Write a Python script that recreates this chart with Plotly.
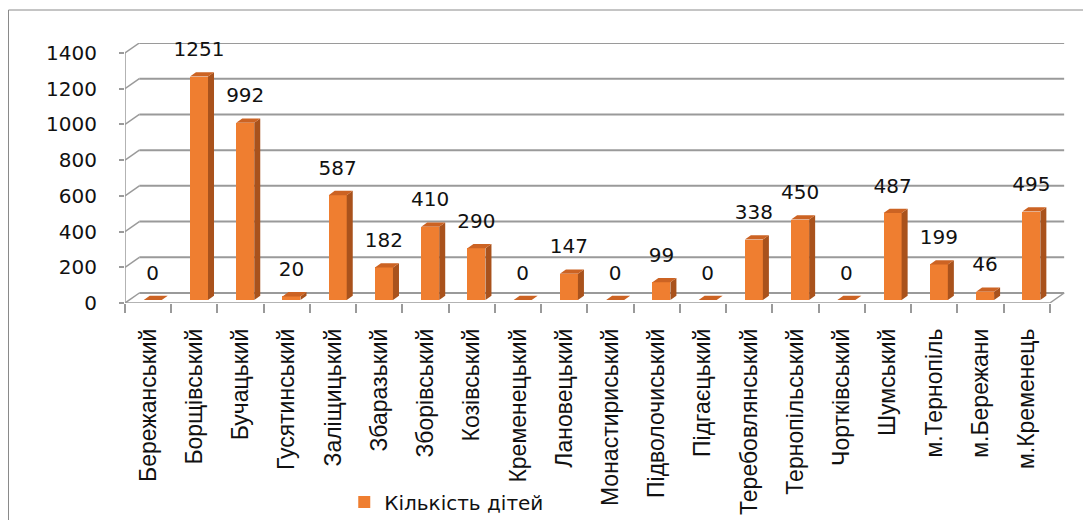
import plotly.graph_objects as go

categories = ["Бережанський", "Борщівський", "Бучацький", "Гусятинський", "Заліщицький",
              "Збаразький", "Зборівський", "Козівський", "Кременецький", "Лановецький",
              "Монастириський", "Підволочиський", "Підгаєцький", "Теребовлянський",
              "Тернопільський", "Чортківський", "Шумський", "м.Тернопіль", "м.Бережани",
              "м.Кременець"]
values = [0, 1251, 992, 20, 587, 182, 410, 290, 0, 147, 0, 99, 0, 338, 450, 0, 487, 199, 46, 495]
y_ticks = [0, 200, 400, 600, 800, 1000, 1200, 1400]
series_name = "Кількість дітей"

# --- pseudo-3D geometry (axis units) ---
DXB, DYB = 0.31, 56        # back-wall offset
FX, BASE = 0.10, 17        # bar front-face offset inside the depth
W = 0.39                   # bar width
SDX, SDY = 0.13, 24        # bar depth (side / top)
LABEL_GAP = 86

FRONT = "#EF7E30"
SIDE = "#A9521C"
TOP = "#CC6323"
GRID = "#9A9A9A"
NUM_FONT = "DejaVu Sans"

n = len(categories)
xs = [i + FX for i in range(n)]

fig = go.Figure()

# front faces
fig.add_trace(go.Bar(x=xs, y=values, base=BASE, width=W, marker=dict(color=FRONT, line=dict(width=0)),
                     name=series_name, showlegend=True, hoverinfo="skip"))

# side faces and top faces
sx, sy, tx, ty = [], [], [], []
for x, v in zip(xs, values):
    xl, xr = x - W / 2, x + W / 2
    top = BASE + v
    if v > 0:
        sx += [xr, xr, xr + SDX, xr + SDX, xr, None]
        sy += [BASE, top, top + SDY, BASE + SDY, BASE, None]
    tx += [xl, xr, xr + SDX, xl + SDX, xl, None]
    ty += [top, top, top + SDY, top + SDY, top, None]
fig.add_trace(go.Scatter(x=sx, y=sy, fill="toself", fillcolor=SIDE, mode="lines",
                         line=dict(width=0, color=SIDE), showlegend=False, hoverinfo="skip"))
fig.add_trace(go.Scatter(x=tx, y=ty, fill="toself", fillcolor=TOP, mode="lines",
                         line=dict(width=0, color=TOP), showlegend=False, hoverinfo="skip"))

# data labels
fig.add_trace(go.Scatter(x=xs, y=[BASE + v + LABEL_GAP for v in values], mode="text",
                         text=[str(v) for v in values], textposition="top center",
                         textfont=dict(family=NUM_FONT, size=20, color="#111111"),
                         cliponaxis=False, showlegend=False, hoverinfo="skip"))

# walls / gridlines as shapes below the data
shapes = []
x0 = -0.5
x_end = n - 0.5
for t in y_ticks:
    shapes.append(dict(type="line", xref="x", yref="y", x0=x0 + DXB, x1=x_end + DXB,
                       y0=t + DYB, y1=t + DYB, line=dict(color=GRID, width=2), layer="below"))
    shapes.append(dict(type="line", xref="x", yref="y", x0=x0, x1=x0 + DXB,
                       y0=t, y1=t + DYB, line=dict(color=GRID, width=1.5), layer="below"))
shapes.append(dict(type="line", xref="x", yref="y", x0=x0, x1=x0, y0=0, y1=y_ticks[-1],
                   line=dict(color=GRID, width=1.5), layer="below"))
shapes.append(dict(type="line", xref="x", yref="y", x0=x0, x1=x_end, y0=0, y1=0,
                   line=dict(color=GRID, width=1.5), layer="below"))
shapes.append(dict(type="line", xref="x", yref="y", x0=x_end, x1=x_end + DXB, y0=0, y1=DYB,
                   line=dict(color=GRID, width=1.5), layer="below"))
# outer frame (figure x=0.5, y=2 -> page 8.5, 10)
shapes.append(dict(type="rect", xref="paper", yref="paper", x0=-116.5 / 941, x1=1.3,
                   y0=-1.5, y1=1 + 33 / 260,
                   line=dict(color="#8A8A8A", width=1), fillcolor="rgba(0,0,0,0)", layer="below"))

fig.update_layout(
    width=1075, height=512,
    margin=dict(l=117, r=17, t=35, b=217, autoexpand=False),
    paper_bgcolor="white", plot_bgcolor="white",
    shapes=shapes,
    showlegend=True,
    legend=dict(orientation="h", x=0.233, y=-0.765, xanchor="left", yanchor="middle",
                font=dict(family=NUM_FONT, size=20, color="#111111"), bgcolor="rgba(0,0,0,0)"),
    xaxis=dict(range=[-0.5, n - 0.5 + DXB + 0.04], tickmode="array", tickvals=list(range(n)),
               ticktext=categories, tickangle=-90, ticks="", showgrid=False, zeroline=False,
               showline=False, ticklabelstandoff=20, automargin=False,
               tickfont=dict(family="Liberation Sans", size=23, color="#111111"),
               minor=dict(tick0=-0.5, dtick=1, ticks="outside", ticklen=9, tickcolor=GRID,
                          tickwidth=1.5, showgrid=False)),
    yaxis=dict(range=[0, y_ticks[-1] + DYB], tickmode="array", tickvals=y_ticks,
               ticktext=[str(t) for t in y_ticks], ticks="outside", ticklen=5, tickcolor=GRID,
               tickwidth=1.5, showgrid=False, zeroline=False, showline=False,
               ticklabelstandoff=18, automargin=False,
               tickfont=dict(family=NUM_FONT, size=20, color="#111111")),
    bargap=0,
)

fig.write_html("out.html")
